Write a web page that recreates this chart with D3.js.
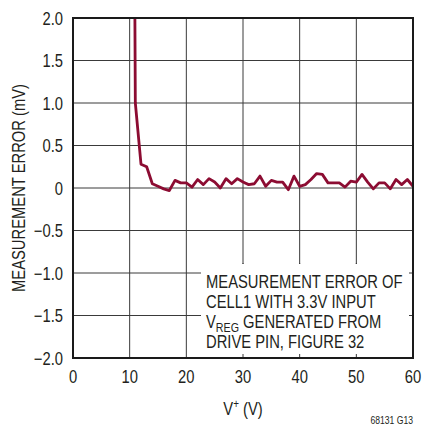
<!DOCTYPE html>
<html>
<head>
<meta charset="utf-8">
<script src="https://cdn.jsdelivr.net/npm/d3@7"></script>
<style>
  body { margin: 0; background: #fff; }
  svg text { font-family: "Liberation Sans Narrow", "Liberation Sans", sans-serif; fill: #231f20; }
</style>
</head>
<body>
<svg id="chart"></svg>
<script>
const width = 422;
const height = 425;
const margin = {top: 18, right: 9, bottom: 67, left: 73};
const squeeze = 0.82; // the original type is a narrow face

// data
const vPlus = [10.9, 11, 12, 13, 14, 15, 16, 17, 18, 19, 20, 21, 22, 23, 24, 25, 26, 27, 28, 29,
               30, 31, 32, 33, 34, 35, 36, 37, 38, 39, 40, 41, 42, 43, 44, 45, 46, 47, 48, 49,
               50, 51, 52, 53, 54, 55, 56, 57, 58, 59, 60];
const errMv = [2.3, 1.0, 0.28, 0.25, 0.05, 0.02, -0.01, -0.03, 0.09, 0.06, 0.06, 0.01, 0.10, 0.04, 0.11, 0.07, 0.00, 0.11, 0.05, 0.11,
               0.07, 0.04, 0.05, 0.14, 0.02, 0.09, 0.07, 0.07, -0.02, 0.14, 0.02, 0.04, 0.10, 0.17, 0.16, 0.06, 0.06, 0.06, 0.01, 0.08,
               0.07, 0.16, 0.07, -0.01, 0.06, 0.06, -0.01, 0.10, 0.04, 0.10, 0.02];
const xTicks = [0, 10, 20, 30, 40, 50, 60];
const yTicks = [-2, -1.5, -1, -0.5, 0, 0.5, 1, 1.5, 2];
const noteLines = ['MEASUREMENT ERROR OF', 'CELL1 WITH 3.3V INPUT', 'GENERATED FROM', 'DRIVE PIN, FIGURE 32'];

const svg = d3.select('#chart')
            .attr('width', width)
            .attr('height', height);

const x = d3.scaleLinear().domain([0, 60]).range([margin.left, width - margin.right]);
const y = d3.scaleLinear().domain([-2, 2]).range([height - margin.bottom, margin.top]);

function narrow(sel) {
  sel.each(function() {
    const len = this.getComputedTextLength();
    d3.select(this).attr('textLength', len * squeeze).attr('lengthAdjust', 'spacingAndGlyphs');
  });
}

// grid
svg.append('g').selectAll('line')
  .data(xTicks.slice(1, -1)).enter().append('line')
  .attr('x1', d => x(d)).attr('x2', d => x(d))
  .attr('y1', y(2)).attr('y2', y(-2))
  .attr('stroke', '#3a3a3a').attr('stroke-width', 1);

svg.append('g').selectAll('line')
  .data(yTicks.slice(1, -1)).enter().append('line')
  .attr('x1', x(0)).attr('x2', x(60))
  .attr('y1', d => y(d)).attr('y2', d => y(d))
  .attr('stroke', '#3a3a3a').attr('stroke-width', 1);

// note box covers the grid in the lower right
const boxLeft = 201, boxTop = 264;
svg.append('rect')
  .attr('x', boxLeft).attr('y', boxTop)
  .attr('width', x(60) - boxLeft).attr('height', y(-2) - boxTop)
  .attr('fill', '#fff');

// small inward ticks where the box hides the grid
const tickLen = 4;
const hidX = xTicks.filter(d => x(d) > boxLeft && d < 60);
svg.append('g').selectAll('line')
  .data(hidX).enter().append('line')
  .attr('x1', d => x(d)).attr('x2', d => x(d))
  .attr('y1', y(-2)).attr('y2', y(-2) - tickLen)
  .attr('stroke', '#3a3a3a');
svg.append('g').selectAll('line')
  .data(hidX).enter().append('line')
  .attr('x1', d => x(d)).attr('x2', d => x(d))
  .attr('y1', boxTop).attr('y2', boxTop - 1)
  .attr('stroke', '#3a3a3a');
svg.append('g').selectAll('line')
  .data(yTicks.filter(d => y(d) > boxTop && d > -2)).enter().append('line')
  .attr('x1', x(60)).attr('x2', x(60) - tickLen)
  .attr('y1', d => y(d)).attr('y2', d => y(d))
  .attr('stroke', '#3a3a3a');

// data line, clipped to the plot
svg.append('clipPath').attr('id', 'clip')
  .append('rect')
  .attr('x', x(0)).attr('y', y(2))
  .attr('width', x(60) - x(0)).attr('height', y(-2) - y(2));

const line = d3.line()
  .x((d, i) => x(vPlus[i]))
  .y(d => y(d));

svg.append('path')
  .datum(errMv)
  .attr('clip-path', 'url(#clip)')
  .attr('fill', 'none')
  .attr('stroke', '#8c0c32')
  .attr('stroke-width', 2.8)
  .attr('stroke-linejoin', 'round')
  .attr('d', line);

// frame
svg.append('rect')
  .attr('x', x(0)).attr('y', y(2))
  .attr('width', x(60) - x(0)).attr('height', y(-2) - y(2))
  .attr('fill', 'none').attr('stroke', '#1a1a1a').attr('stroke-width', 2);

// tick labels
svg.append('g').selectAll('text')
  .data(xTicks).enter().append('text')
  .attr('x', d => x(d)).attr('y', y(-2) + 25)
  .attr('text-anchor', 'middle')
  .attr('font-size', 18)
  .text(d => d)
  .call(narrow);

svg.append('g').selectAll('text')
  .data(yTicks).enter().append('text')
  .attr('x', x(0) - 10).attr('y', d => y(d) + 6.5)
  .attr('text-anchor', 'end')
  .attr('font-size', 18)
  .text(d => d === 0 ? '0' : d3.format('.1f')(d).replace('-', '\u2212'))
  .call(narrow);

// axis titles
svg.append('text')
  .attr('transform', `translate(25, ${y(0)}) rotate(-90)`)
  .attr('text-anchor', 'middle')
  .attr('font-size', 18)
  .text('MEASUREMENT ERROR (mV)')
  .call(narrow);

const xt = svg.append('text')
  .attr('x', x(30)).attr('y', 415)
  .attr('text-anchor', 'middle')
  .attr('font-size', 18);
xt.append('tspan').text('V');
xt.append('tspan').attr('dy', -7).attr('font-size', 12).text('+');
xt.append('tspan').attr('dy', 7).text(' (V)');
xt.call(narrow);

svg.append('text')
  .attr('x', x(60)).attr('y', 424)
  .attr('text-anchor', 'end')
  .attr('font-size', 10.5)
  .text('68131 G13')
  .call(narrow);

// note text
const note = svg.append('g').attr('font-size', 18);
noteLines.forEach((t, i) => {
  const tx = note.append('text').attr('x', 206).attr('y', 288 + i * 20);
  if (i === 2) {
    tx.append('tspan').text('V');
    tx.append('tspan').attr('dy', 4).attr('font-size', 13).text('REG');
    tx.append('tspan').attr('dy', -4).text(' ' + t);
  } else {
    tx.text(t);
  }
  tx.call(narrow);
});
</script>
</body>
</html>
